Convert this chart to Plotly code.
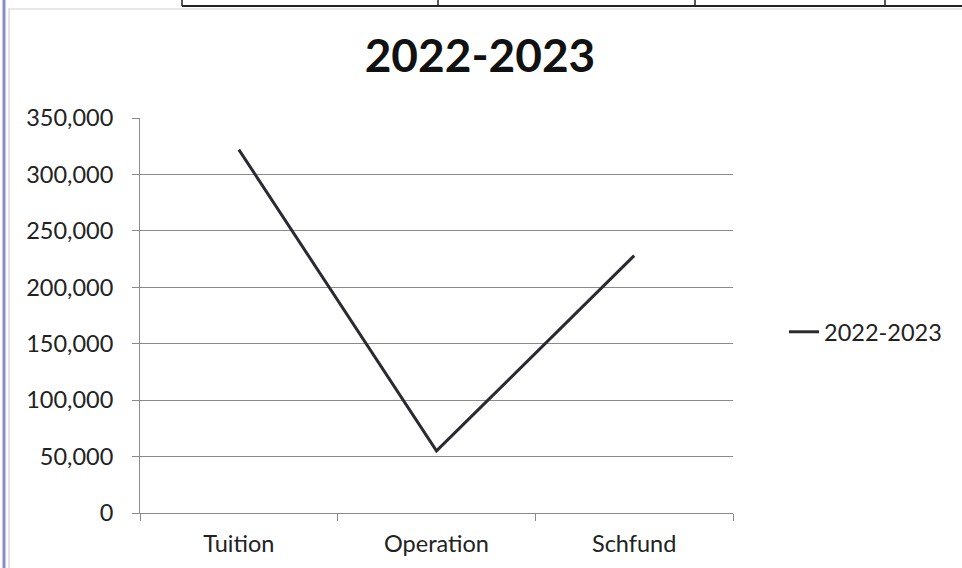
import plotly.graph_objects as go

categories = ["Tuition", "Operation", "Schfund"]
values_2022_2023 = [322000, 55000, 228000]
series_name = "2022-2023"
y_tick_values = [0, 50000, 100000, 150000, 200000, 250000, 300000, 350000]
y_tick_labels = ["0", "50,000", "100,000", "150,000", "200,000", "250,000", "300,000", "350,000"]

W, H = 962, 568
L, R, T, B = 140, 229, 118, 55
pw, ph = W - L - R, H - T - B

def px(x):
    return (x - L) / pw

def py(y):
    return 1 - (y - T) / ph

fig = go.Figure()
fig.add_trace(go.Scatter(
    x=categories, y=values_2022_2023, mode="lines", name=series_name,
    line=dict(color="#2a2a30", width=3),
))

font_family = "Lato, 'Open Sans', sans-serif"
grid_color = "#8a8a8a"

shapes = []
shapes.append(dict(type="line", xref="paper", yref="paper", x0=px(4), x1=px(4), y0=py(0), y1=py(568),
                   line=dict(color="#8c8cc8", width=3)))
shapes.append(dict(type="line", xref="paper", yref="paper", x0=px(9), x1=px(9), y0=py(8), y1=py(568),
                   line=dict(color="#c8c8c8", width=1)))
shapes.append(dict(type="line", xref="paper", yref="paper", x0=px(182), x1=px(962), y0=py(6), y1=py(6),
                   line=dict(color="#222222", width=2)))
shapes.append(dict(type="line", xref="paper", yref="paper", x0=px(9), x1=px(962), y0=py(9), y1=py(9),
                   line=dict(color="#d0d0d0", width=1)))
for xv in [182, 438, 695, 885]:
    shapes.append(dict(type="line", xref="paper", yref="paper", x0=px(xv), x1=px(xv), y0=py(0), y1=py(6),
                       line=dict(color="#222222", width=1.5)))

fig.update_layout(
    width=W, height=H,
    margin=dict(l=L, r=R, t=T, b=B),
    paper_bgcolor="white", plot_bgcolor="white",
    font=dict(family=font_family, color="#222222", size=23.5),
    title=dict(text="<b>2022-2023</b>", x=480 / W, xref="container", xanchor="center",
               y=1 - 56 / H, yref="container", yanchor="middle", font=dict(size=46, color="#111111")),
    showlegend=True,
    legend=dict(x=px(784), y=py(332), xanchor="left", yanchor="middle",
                font=dict(size=23.5), bgcolor="rgba(0,0,0,0)"),
    shapes=shapes,
)

fig.update_xaxes(
    type="category", range=[-0.5, 2.5], tickson="boundaries",
    showline=True, linecolor=grid_color, linewidth=1,
    ticks="outside", ticklen=7, tickcolor=grid_color,
    showgrid=False, ticklabelstandoff=10,
)
fig.update_yaxes(
    range=[0, 350000], tickvals=y_tick_values, ticktext=y_tick_labels,
    showline=True, linecolor=grid_color, linewidth=1,
    ticks="outside", ticklen=7, tickcolor=grid_color,
    showgrid=True, gridcolor=grid_color, gridwidth=1,
    zeroline=False, ticklabelstandoff=14,
)

fig.write_html("out.html", config={"displayModeBar": False},
               post_script="document.body.style.margin='0';")
